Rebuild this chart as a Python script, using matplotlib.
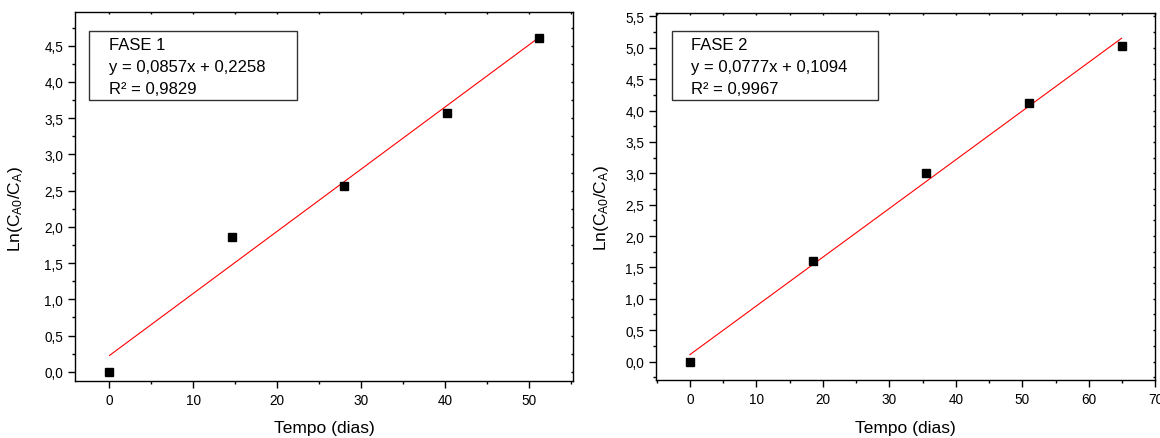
import matplotlib
matplotlib.use("Agg")
import matplotlib.pyplot as plt
import numpy as np
from matplotlib.patches import Rectangle
from matplotlib.ticker import MultipleLocator, FuncFormatter

plt.rcParams['font.family'] = ['Liberation Sans', 'DejaVu Sans']
plt.rcParams['mathtext.default'] = 'regular'

# Data
t1 = [0, 14.6, 28.0, 40.2, 51.2]
y1 = [0.0, 1.86, 2.57, 3.565, 4.61]
slope1, inter1 = 0.0857, 0.2258
label1 = ["FASE 1", "y = 0,0857x + 0,2258", "R² = 0,9829"]

t2 = [0, 18.5, 35.5, 51.0, 64.9]
y2 = [0.0, 1.595, 3.01, 4.115, 5.025]
slope2, inter2 = 0.0777, 0.1094
label2 = ["FASE 2", "y = 0,0777x + 0,1094", "R² = 0,9967"]

fig = plt.figure(figsize=(11.6, 4.39), dpi=100)

comma = FuncFormatter(lambda v, p: ("%.1f" % v).replace('.', ','))
intfmt = FuncFormatter(lambda v, p: "%d" % round(v))

def panel(rect, t, y, slope, inter, labels, xlim, ylim, xmaj, box, textx, liney, ylx, xly):
    ax = fig.add_axes(rect)
    x = np.array(t)
    ax.plot([x[0], x[-1]], [inter + slope * x[0], inter + slope * x[-1]],
            color='red', lw=0.8, zorder=2)
    ax.plot(t, y, 's', color='black', ms=5.5, zorder=3)
    ax.set_xlim(*xlim)
    ax.set_ylim(*ylim)
    ax.xaxis.set_major_locator(MultipleLocator(xmaj))
    ax.xaxis.set_minor_locator(MultipleLocator(xmaj / 2))
    ax.yaxis.set_major_locator(MultipleLocator(0.5))
    ax.yaxis.set_minor_locator(MultipleLocator(0.25))
    ax.yaxis.set_major_formatter(comma)
    ax.xaxis.set_major_formatter(intfmt)
    for s in ax.spines.values():
        s.set_linewidth(1.0)
    ax.tick_params(which='major', direction='out', length=5, width=1.0,
                   labelsize=9.8, colors='black', pad=3.5)
    ax.tick_params(which='minor', direction='out', length=2.5, width=1.0)
    ax.tick_params(which='both', top=True, right=True)
    ax.tick_params(which='major', axis='both', labeltop=False, labelright=False)
    # top/right ticks inward and short
    for tk in ax.xaxis.get_major_ticks() + ax.xaxis.get_minor_ticks():
        tk.tick2line.set_marker(matplotlib.lines.TICKDOWN)
        tk.tick2line.set_markersize(1.5)
    for tk in ax.yaxis.get_major_ticks() + ax.yaxis.get_minor_ticks():
        tk.tick2line.set_marker(matplotlib.lines.TICKLEFT)
        tk.tick2line.set_markersize(1.5)
    ax.set_xlabel("Tempo (dias)", fontsize=12.5)
    ax.xaxis.set_label_coords(0.5, xly)
    ax.set_ylabel("Ln(C$_{A0}$/C$_{A}$)", fontsize=12.5)
    ax.yaxis.set_label_coords(ylx, 0.47)
    ax.add_patch(Rectangle((box[0], box[1]), box[2] - box[0], box[3] - box[1],
                           transform=ax.transAxes, fill=True, facecolor='white',
                           edgecolor='#333333', lw=1.0, zorder=4))
    for ly, txt in zip(liney, labels):
        ax.text(textx, ly, txt, transform=ax.transAxes, fontsize=12,
                va='center', ha='left', zorder=5)
    return ax

panel([0.0647, 0.1292, 0.4293, 0.8405], t1, y1, slope1, inter1, label1,
      (-4.1, 55.25), (-0.13, 4.96), 10,
      (0.028, 0.762, 0.446, 0.949), 0.068, [0.912, 0.853, 0.793], -0.100, -0.105)
panel([0.5655, 0.1328, 0.4306, 0.8346], t2, y2, slope2, inter2, label2,
      (-5.1, 70.0), (-0.29, 5.55), 10,
      (0.032, 0.763, 0.444, 0.952), 0.070, [0.914, 0.854, 0.794], -0.090, -0.11)

fig.savefig("out.png", dpi=100)
